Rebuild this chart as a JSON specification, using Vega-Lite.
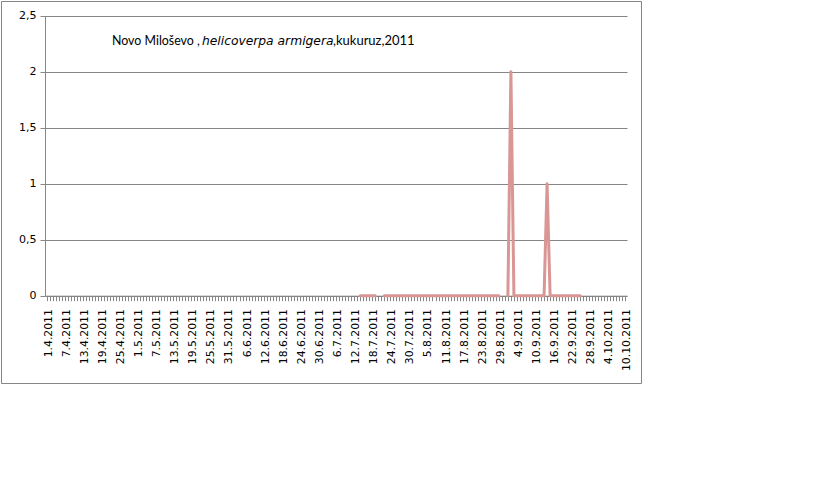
{
  "$schema": "https://vega.github.io/schema/vega-lite/v6.json",
  "width": 640,
  "height": 382,
  "autosize": "none",
  "padding": {"left": 1, "top": 1, "right": 4, "bottom": 4},
  "background": "white",
  "config": {"view": {"stroke": "#868686", "strokeWidth": 1}},
  "layer": [
    {
      "data": {"values": [
        {"date": "2011-07-14", "count": 0}, {"date": "2011-07-15", "count": 0}, {"date": "2011-07-16", "count": 0},
        {"date": "2011-07-17", "count": 0}, {"date": "2011-07-18", "count": 0}, {"date": "2011-07-19", "count": 0},
        {"date": "2011-07-20", "count": null}, {"date": "2011-07-21", "count": null},
        {"date": "2011-07-22", "count": 0}, {"date": "2011-07-23", "count": 0}, {"date": "2011-07-24", "count": 0},
        {"date": "2011-07-25", "count": 0}, {"date": "2011-07-26", "count": 0}, {"date": "2011-07-27", "count": 0},
        {"date": "2011-07-28", "count": 0}, {"date": "2011-07-29", "count": 0}, {"date": "2011-07-30", "count": 0},
        {"date": "2011-07-31", "count": 0},
        {"date": "2011-08-01", "count": 0}, {"date": "2011-08-02", "count": 0}, {"date": "2011-08-03", "count": 0},
        {"date": "2011-08-04", "count": 0}, {"date": "2011-08-05", "count": 0}, {"date": "2011-08-06", "count": 0},
        {"date": "2011-08-07", "count": 0}, {"date": "2011-08-08", "count": 0}, {"date": "2011-08-09", "count": 0},
        {"date": "2011-08-10", "count": 0}, {"date": "2011-08-11", "count": 0}, {"date": "2011-08-12", "count": 0},
        {"date": "2011-08-13", "count": 0}, {"date": "2011-08-14", "count": 0}, {"date": "2011-08-15", "count": 0},
        {"date": "2011-08-16", "count": 0}, {"date": "2011-08-17", "count": 0}, {"date": "2011-08-18", "count": 0},
        {"date": "2011-08-19", "count": 0}, {"date": "2011-08-20", "count": 0}, {"date": "2011-08-21", "count": 0},
        {"date": "2011-08-22", "count": 0}, {"date": "2011-08-23", "count": 0}, {"date": "2011-08-24", "count": 0},
        {"date": "2011-08-25", "count": 0}, {"date": "2011-08-26", "count": 0}, {"date": "2011-08-27", "count": 0},
        {"date": "2011-08-28", "count": 0}, {"date": "2011-08-29", "count": 0},
        {"date": "2011-08-30", "count": null}, {"date": "2011-08-31", "count": null},
        {"date": "2011-09-01", "count": 0}, {"date": "2011-09-02", "count": 2}, {"date": "2011-09-03", "count": 0},
        {"date": "2011-09-04", "count": 0}, {"date": "2011-09-05", "count": 0}, {"date": "2011-09-06", "count": 0},
        {"date": "2011-09-07", "count": 0}, {"date": "2011-09-08", "count": 0}, {"date": "2011-09-09", "count": 0},
        {"date": "2011-09-10", "count": 0}, {"date": "2011-09-11", "count": 0}, {"date": "2011-09-12", "count": 0},
        {"date": "2011-09-13", "count": 0}, {"date": "2011-09-14", "count": 1}, {"date": "2011-09-15", "count": 0},
        {"date": "2011-09-16", "count": 0}, {"date": "2011-09-17", "count": 0}, {"date": "2011-09-18", "count": 0},
        {"date": "2011-09-19", "count": 0}, {"date": "2011-09-20", "count": 0}, {"date": "2011-09-21", "count": 0},
        {"date": "2011-09-22", "count": 0}, {"date": "2011-09-23", "count": 0}, {"date": "2011-09-24", "count": 0},
        {"date": "2011-09-25", "count": 0}
      ]},
      "mark": {"type": "line", "color": "#D99694", "strokeWidth": 3, "strokeJoin": "round", "strokeCap": "round", "clip": false},
      "encoding": {
        "x": {
          "field": "date", "type": "temporal",
          "scale": {"type": "utc", "domain": [
            {"year": 2011, "month": 3, "date": 31, "hours": 12, "utc": true},
            {"year": 2011, "month": 10, "date": 10, "hours": 12, "utc": true}
          ], "range": [44, 626], "nice": false},
          "axis": {
            "title": null, "grid": false, "offset": -87.3,
            "tickCount": {"interval": "day", "step": 1},
            "labelExpr": "(round((datum.value - utc(2011,3,1)) / 86400000) % 6 == 0) ? utcFormat(datum.value, '%-d.%-m.%Y') : ''",
            "labelAngle": 270, "labelAlign": "right", "labelBaseline": "middle",
            "labelOverlap": false, "labelBound": false, "labelFlush": false,
            "labelPadding": 8, "labelOffset": 1.5, "tickSize": 5, "tickColor": "#868686", "domainColor": "#868686",
            "labelFont": "DejaVu Sans", "labelFontSize": 10.8, "labelColor": "#000000"
          }
        },
        "y": {
          "field": "count", "type": "quantitative",
          "scale": {"domain": [0, 2.5], "range": [294.7, 14.7], "nice": false, "zero": true},
          "axis": {
            "title": null, "offset": -44, "values": [0, 0.5, 1, 1.5, 2, 2.5],
            "grid": true, "gridColor": "#868686", "domainColor": "#868686", "tickColor": "#868686",
            "tickSize": 5, "labelPadding": 4,
            "labelExpr": "replace(toString(datum.value), '.', ',')",
            "labelFont": "DejaVu Sans", "labelFontSize": 11, "labelColor": "#000000"
          }
        }
      }
    },
    {
      "data": {"values": [{"part": "Novo Miloševo ,"}]},
      "mark": {"type": "text", "align": "left", "baseline": "alphabetic", "font": "Lato", "fontSize": 12.4, "color": "#000000"},
      "encoding": {
        "x": {"datum": {"year": 2011, "month": 4, "date": 22, "hours": 17, "utc": true}, "type": "temporal"},
        "y": {"datum": 2.234, "type": "quantitative"},
        "text": {"field": "part"}
      }
    },
    {
      "data": {"values": [{"part": "helicoverpa armigera"}]},
      "mark": {"type": "text", "align": "left", "baseline": "alphabetic", "font": "DejaVu Sans", "fontSize": 12.3, "fontStyle": "italic", "color": "#000000"},
      "encoding": {
        "x": {"datum": {"year": 2011, "month": 5, "date": 22, "hours": 13, "utc": true}, "type": "temporal"},
        "y": {"datum": 2.234, "type": "quantitative"},
        "text": {"field": "part"}
      }
    },
    {
      "data": {"values": [{"part": ",kukuruz,2011"}]},
      "mark": {"type": "text", "align": "left", "baseline": "alphabetic", "font": "Lato", "fontSize": 13, "color": "#000000"},
      "encoding": {
        "x": {"datum": {"year": 2011, "month": 7, "date": 5, "hours": 0, "utc": true}, "type": "temporal"},
        "y": {"datum": 2.234, "type": "quantitative"},
        "text": {"field": "part"}
      }
    }
  ]
}
